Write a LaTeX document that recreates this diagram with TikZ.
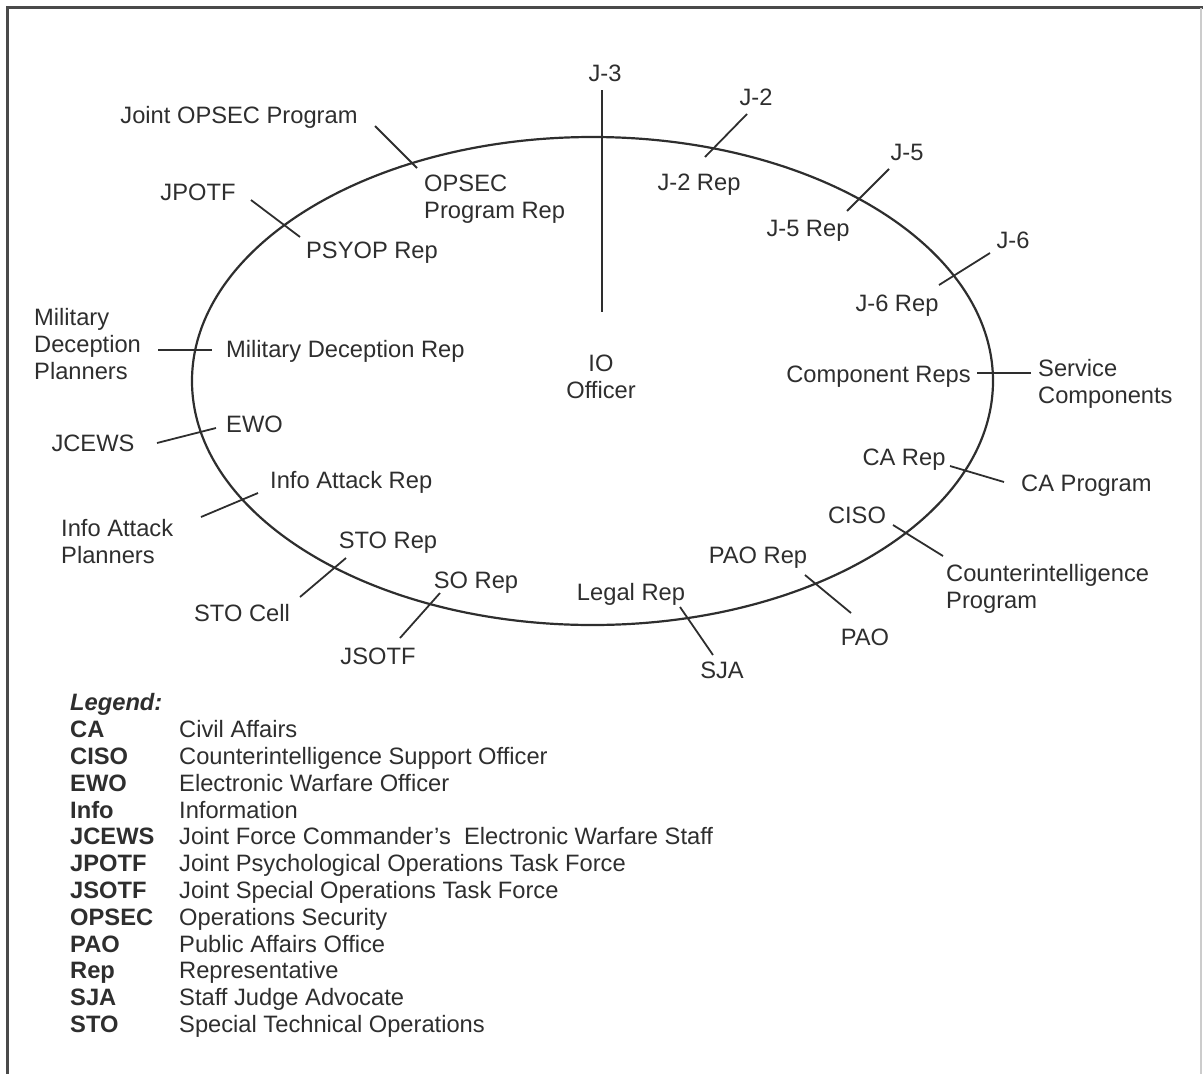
\documentclass[tikz,border=0pt]{standalone}
\usepackage{fontspec}
\setmainfont{Liberation Sans}
\usetikzlibrary{shapes,positioning,calc}
\definecolor{ink}{HTML}{2E2E2E}
\definecolor{rim}{HTML}{4A4A4A}

\begin{document}
\begin{tikzpicture}[
    x=1pt, y=-1pt,
    font=\fontsize{23.7}{27}\selectfont,
    lbl/.style={inner sep=0pt, text height=17pt, text depth=0pt, text=ink},
    multi/.style={inner sep=0pt, align=left, anchor=north west, text=ink},
    tick/.style={draw=ink, line width=1.8pt}
]
    \useasboundingbox (0,0) rectangle (1203,1074);
    % page frame
    \draw[rim, line width=3pt] (7,1074) -- (7,7) -- (1203,7);
    \draw[black!20, line width=1.5pt] (1201,8) -- (1201,1074);

    % the IO cell
    \node[draw=ink, ellipse, line width=2.2pt, minimum width=801pt, minimum height=488pt, inner sep=0pt] (ring) at (592.5,381) {};
    \node[inner sep=0pt, align=center, anchor=north, text=ink] (io) at (601,354.5) {IO\\Officer};

    % labels
    \node[lbl] (j3) at (605,73) {J-3};
    \node[lbl] (j2) at (756,97) {J-2};
    \node[lbl] (j2rep) at (699,182) {J-2 Rep};
    \node[lbl] (j5) at (907,152) {J-5};
    \node[lbl] (j5rep) at (808,228) {J-5 Rep};
    \node[lbl] (j6) at (1013,240) {J-6};
    \node[lbl] (j6rep) at (897,303) {J-6 Rep};
    \node[lbl] (jop) at (239,115) {Joint OPSEC Program};
    \node[multi] (opsecrep) at (424,174.5) {OPSEC\\Program Rep};
    \node[lbl] (jpotf) at (198,192) {JPOTF};
    \node[lbl] (psyop) at (372,250) {PSYOP Rep};
    \node[multi] (mdp) at (34,308.5) {Military\\Deception\\Planners};
    \node[lbl, anchor=west] (mdrep) at (226,349) {Military Deception Rep};
    \node[lbl, anchor=west] (ewo) at (226,424) {EWO};
    \node[lbl] (jcews) at (93,443) {JCEWS};
    \node[lbl, anchor=west] (iarep) at (270,480) {Info Attack Rep};
    \node[multi] (iap) at (61,519.5) {Info Attack\\Planners};
    \node[lbl] (storep) at (388,540) {STO Rep};
    \node[lbl] (stocell) at (242,613) {STO Cell};
    \node[lbl] (sorep) at (476,580) {SO Rep};
    \node[lbl] (jsotf) at (378,656) {JSOTF};
    \node[lbl] (legal) at (631,592) {Legal Rep};
    \node[lbl] (sja) at (722,670) {SJA};
    \node[lbl] (paorep) at (758,555) {PAO Rep};
    \node[lbl] (pao) at (865,637) {PAO};
    \node[lbl] (ciso) at (857,515) {CISO};
    \node[multi] (cip) at (946,564.5) {Counterintelligence\\Program};
    \node[lbl] (carep) at (904,457) {CA Rep};
    \node[lbl, anchor=west] (caprog) at (1021,483) {CA Program};
    \node[lbl, anchor=east] (comp) at (971,374) {Component Reps};
    \node[multi] (svc) at (1038,359.5) {Service\\Components};

    % tick ends
    \coordinate (j3-a) at (602,90);     \coordinate (j3-b) at (602,312);
    \coordinate (j2-a) at (747,114);    \coordinate (j2-b) at (705,157);
    \coordinate (j5-a) at (889,169);    \coordinate (j5-b) at (847,211);
    \coordinate (j6-a) at (990,253);    \coordinate (j6-b) at (939,285);
    \coordinate (op-a) at (375,126);    \coordinate (op-b) at (417,168);
    \coordinate (ps-a) at (251,200);    \coordinate (ps-b) at (300,237);
    \coordinate (md-a) at (158,350);    \coordinate (md-b) at (212,350);
    \coordinate (ew-a) at (157,443);    \coordinate (ew-b) at (216,428);
    \coordinate (ia-a) at (201,517);    \coordinate (ia-b) at (258,493);
    \coordinate (st-a) at (300,597);    \coordinate (st-b) at (346,558);
    \coordinate (so-a) at (400,638);    \coordinate (so-b) at (440,593);
    \coordinate (lg-a) at (713,655);    \coordinate (lg-b) at (680,607);
    \coordinate (pa-a) at (851,613);    \coordinate (pa-b) at (805,575);
    \coordinate (ci-a) at (943,556);    \coordinate (ci-b) at (893,525);
    \coordinate (ca-a) at (1004,482);   \coordinate (ca-b) at (950,466);
    \coordinate (cr-a) at (1031,373);   \coordinate (cr-b) at (977,373);

    \draw[tick] (j3-a) -- (j3-b);
    \draw[tick] (j2-a) -- (j2-b);
    \draw[tick] (j5-a) -- (j5-b);
    \draw[tick] (j6-a) -- (j6-b);
    \draw[tick] (op-a) -- (op-b);
    \draw[tick] (ps-a) -- (ps-b);
    \draw[tick] (md-a) -- (md-b);
    \draw[tick] (ew-a) -- (ew-b);
    \draw[tick] (ia-a) -- (ia-b);
    \draw[tick] (st-a) -- (st-b);
    \draw[tick] (so-a) -- (so-b);
    \draw[tick] (lg-a) -- (lg-b);
    \draw[tick] (pa-a) -- (pa-b);
    \draw[tick] (ci-a) -- (ci-b);
    \draw[tick] (ca-a) -- (ca-b);
    \draw[tick] (cr-a) -- (cr-b);

    % legend
    \node[inner sep=0pt, anchor=north west, text=ink, font=\fontsize{23.7}{26.8}\selectfont] (legend) at (70,692) {%
        \begin{tabular}{@{}p{109pt}@{}l@{}}
        \multicolumn{2}{@{}l}{\textbf{\textit{Legend:}}}\\
        \textbf{CA} & Civil Affairs\\
        \textbf{CISO} & Counterintelligence Support Officer\\
        \textbf{EWO} & Electronic Warfare Officer\\
        \textbf{Info} & Information\\
        \textbf{JCEWS} & Joint Force Commander's~ Electronic Warfare Staff\\
        \textbf{JPOTF} & Joint Psychological Operations Task Force\\
        \textbf{JSOTF} & Joint Special Operations Task Force\\
        \textbf{OPSEC} & Operations Security\\
        \textbf{PAO} & Public Affairs Office\\
        \textbf{Rep} & Representative\\
        \textbf{SJA} & Staff Judge Advocate\\
        \textbf{STO} & Special Technical Operations
        \end{tabular}};
\end{tikzpicture}
\end{document}
